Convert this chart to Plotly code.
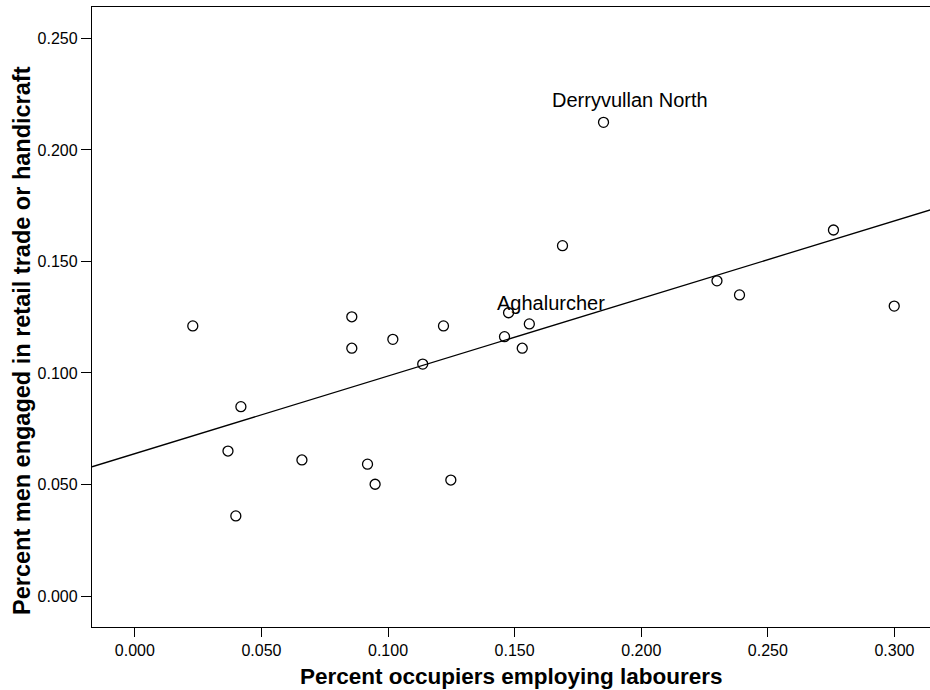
import numpy as np
import plotly.graph_objects as go

# Data
pct_employing_labourers = [0.0229, 0.0368, 0.0399, 0.0419, 0.0660, 0.0857, 0.0857, 0.0919,
                           0.0949, 0.1019, 0.1137, 0.1219, 0.1248, 0.1460, 0.1476, 0.1558,
                           0.1530, 0.1689, 0.1851, 0.2299, 0.2388, 0.2759, 0.2999]
pct_retail_handicraft = [0.1211, 0.0650, 0.0359, 0.0849, 0.0610, 0.1252, 0.1111, 0.0591,
                         0.0501, 0.1151, 0.1040, 0.1211, 0.0520, 0.1163, 0.1270, 0.1220,
                         0.1111, 0.1571, 0.2124, 0.1413, 0.1350, 0.1641, 0.1300]
point_labels = {14: "Aghalurcher", 18: "Derryvullan North"}

x_ticks = [0.0, 0.05, 0.10, 0.15, 0.20, 0.25, 0.30]
y_ticks = [0.0, 0.05, 0.10, 0.15, 0.20, 0.25]
x_range = [-0.0169, 0.3160]
y_range = [-0.0139, 0.2641]

x_title = "Percent occupiers employing labourers"
y_title = "Percent men engaged in retail trade or handicraft"

x = np.array(pct_employing_labourers)
y = np.array(pct_retail_handicraft)
slope, intercept = np.polyfit(x, y, 1)
fit_x = np.array(x_range)
fit_y = intercept + slope * fit_x

FONT = "Liberation Sans, Arial, sans-serif"

fig = go.Figure()
fig.add_trace(go.Scatter(x=fit_x, y=fit_y, mode="lines",
                         line=dict(color="black", width=1.3), hoverinfo="skip",
                         showlegend=False))
fig.add_trace(go.Scatter(x=x, y=y, mode="markers",
                         marker=dict(symbol="circle-open", size=10, color="black",
                                     line=dict(width=1.3, color="black")),
                         showlegend=False))

label_offsets = {14: (42, 10), 18: (26, 22)}
for idx, name in point_labels.items():
    dx, dy = label_offsets[idx]
    fig.add_annotation(x=x[idx], y=y[idx], text=name, showarrow=False,
                       xshift=dx, yshift=dy,
                       font=dict(family=FONT, size=20, color="black"))

# axis titles as annotations (fixed pixel placement); centred on the visible 92..930 span
fig.add_annotation(xref="paper", yref="paper", x=0.0, y=0, xshift=419, yshift=-49,
                   xanchor="center", yanchor="middle", showarrow=False,
                   text="<b>" + x_title + "</b>",
                   font=dict(family=FONT, size=22.5, color="black"))
fig.add_annotation(xref="paper", yref="paper", x=0, y=0.5, xshift=-70, yshift=-24,
                   xanchor="center", yanchor="middle", showarrow=False, textangle=-90,
                   text="<b>" + y_title + "</b>",
                   font=dict(family=FONT, size=23.5, color="black"))

fig.update_layout(
    width=935, height=690,
    margin=dict(l=92, r=0, t=7, b=63),
    paper_bgcolor="white", plot_bgcolor="white",
    font=dict(family=FONT, color="black"),
    showlegend=False,
)
fig.update_xaxes(
    range=x_range, tickvals=x_ticks, tickformat=".3f",
    showgrid=False, zeroline=False, automargin=False,
    showline=True, linecolor="black", linewidth=1.3, mirror=True,
    ticks="outside", ticklen=9, tickwidth=1.3, tickcolor="black",
    tickfont=dict(size=16),
)
fig.update_yaxes(
    range=y_range, tickvals=y_ticks, tickformat=".3f",
    showgrid=False, zeroline=False, automargin=False,
    showline=True, linecolor="black", linewidth=1.3, mirror=False,
    ticks="outside", ticklen=10, tickwidth=1.3, tickcolor="black",
    tickfont=dict(size=16),
)

fig.write_html(
    "out.html",
    config={"displayModeBar": False},
    post_script="document.body.style.margin='0';document.body.style.overflow='hidden';",
)
